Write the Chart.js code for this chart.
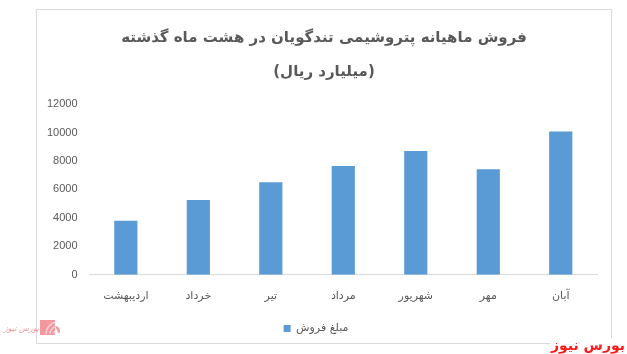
<!DOCTYPE html>
<html>
<head>
<meta charset="utf-8">
<script src="https://cdn.jsdelivr.net/npm/chart.js@4"></script>
<style>
html,body{margin:0;padding:0;background:#fff;}
#wrap{width:627px;height:354px;position:relative;}
</style>
</head>
<body>
<div id="wrap"><canvas id="c" width="627" height="354"></canvas></div>
<script>
const titleLines = ['فروش ماهیانه پتروشیمی تندگویان در هشت ماه گذشته', '(میلیارد ریال)'];
const categories = ['اردیبهشت', 'خرداد', 'تیر', 'مرداد', 'شهریور', 'مهر', 'آبان'];
const seriesName = 'مبلغ فروش';
const salesValues = [3800, 5250, 6500, 7650, 8700, 7420, 10080];
const yTicks = [0, 2000, 4000, 6000, 8000, 10000, 12000];
const watermark = 'بورس نیوز';

const TITLE_SIZE = 15, TITLE_LH = 2.27, TITLE_PAD_TOP = 21;

const frameAndMarks = {
  id: 'frameAndMarks',
  beforeDraw(chart) {
    const ctx = chart.ctx;
    ctx.save();
    ctx.fillStyle = '#fff';
    ctx.fillRect(0, 0, chart.width, chart.height);
    ctx.strokeStyle = '#d9d9d9';
    ctx.lineWidth = 1;
    ctx.strokeRect(36.5, 9.5, 575, 334);
    ctx.restore();
  },
  afterDraw(chart) {
    const ctx = chart.ctx;
    ctx.save();
    // title centred on the frame
    const tb = chart.titleBlock;
    const lh = TITLE_SIZE * TITLE_LH;
    ctx.font = 'bold ' + TITLE_SIZE + 'px "DejaVu Sans"';
    ctx.fillStyle = '#595959';
    ctx.textAlign = 'center';
    ctx.textBaseline = 'middle';
    titleLines.forEach((t, i) => {
      ctx.fillText(t, 324, tb.top + TITLE_PAD_TOP + lh / 2 + i * lh);
    });
    // watermark bottom right
    ctx.font = 'bold 14px "DejaVu Sans"';
    ctx.textAlign = 'right';
    ctx.textBaseline = 'alphabetic';
    ctx.fillStyle = '#fff';
    const w = ctx.measureText(watermark).width;
    ctx.fillRect(624 - w, 338, w + 2, 16);
    ctx.fillStyle = '#ff1a1a';
    ctx.fillText(watermark, 625, 350);
    // logo bottom left
    ctx.globalAlpha = 0.55;
    ctx.fillStyle = '#e8434f';
    ctx.fillRect(40, 320, 15, 15);
    ctx.strokeStyle = '#fff';
    ctx.lineWidth = 1.5;
    for (let r = 4; r <= 12; r += 4) {
      ctx.beginPath();
      ctx.arc(58, 334, r, Math.PI, Math.PI * 1.5);
      ctx.stroke();
    }
    ctx.fillStyle = '#e8434f';
    ctx.beginPath();
    ctx.arc(55, 331, 5, Math.PI * 1.5, Math.PI * 2.2);
    ctx.fill();
    ctx.font = 'italic 8px "DejaVu Sans"';
    ctx.textAlign = 'right';
    ctx.fillText(watermark, 39, 331);
    ctx.restore();
  }
};

new Chart(document.getElementById('c'), {
  type: 'bar',
  data: {
    labels: categories,
    datasets: [{
      label: seriesName,
      data: salesValues,
      backgroundColor: '#5b9bd5',
      borderWidth: 0,
      categoryPercentage: 1,
      barPercentage: 0.32
    }]
  },
  options: {
    responsive: false,
    animation: false,
    devicePixelRatio: 1,
    layout: { padding: { left: 35, right: 30, top: 0, bottom: 10 } },
    plugins: {
      title: {
        display: true,
        text: titleLines,
        color: 'rgba(0,0,0,0)',
        font: { family: '"DejaVu Sans"', size: TITLE_SIZE, weight: 'bold', lineHeight: TITLE_LH },
        padding: { top: TITLE_PAD_TOP, bottom: 15 }
      },
      legend: {
        display: true,
        position: 'bottom',
        labels: {
          boxWidth: 7,
          boxHeight: 7,
          color: '#595959',
          font: { family: '"DejaVu Sans"', size: 11 },
          padding: 5
        }
      },
      tooltip: { enabled: false }
    },
    scales: {
      x: {
        grid: { display: false, drawTicks: false },
        border: { display: true, color: '#d9d9d9', width: 1 },
        ticks: {
          color: '#595959',
          font: { family: '"DejaVu Sans"', size: 11 },
          padding: 15,
          maxRotation: 0
        }
      },
      y: {
        min: 0,
        max: 12000,
        afterBuildTicks(scale) { scale.ticks = yTicks.map(v => ({ value: v })); },
        grid: { display: false, drawTicks: false },
        border: { display: false },
        ticks: {
          color: '#595959',
          font: { family: '"Liberation Sans"', size: 11 },
          padding: 12,
          callback: v => String(v)
        }
      }
    }
  },
  plugins: [frameAndMarks]
});
</script>
</body>
</html>
